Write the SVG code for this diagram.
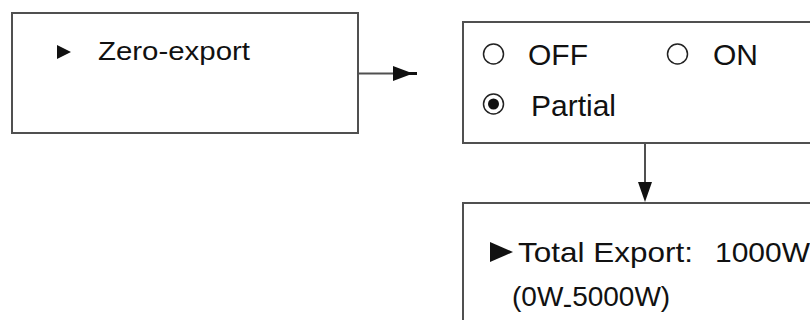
<svg xmlns="http://www.w3.org/2000/svg" width="810" height="320" viewBox="0 0 810 320">
<style>
.box{fill:#fff;stroke:#505050;stroke-width:2}
.t{font-family:"Liberation Sans",Arial,sans-serif;fill:#111}
.c{stroke:#505050;stroke-width:2;fill:none}
.h{fill:#111;stroke:none}
.radio{fill:#fff;stroke:#222;stroke-width:1.5}
</style>
<rect width="810" height="320" fill="#fff"/>
<g id="node-zero-export">
<rect class="box" x="12" y="13" width="346" height="120"/>
<polygon class="h" points="57,45 71,52 57,59"/>
<text class="t" x="98" y="60" font-size="26" textLength="152" lengthAdjust="spacingAndGlyphs">Zero-export</text>
</g>
<g id="node-mode">
<rect class="box" x="463" y="22" width="360" height="121"/>
<circle class="radio" cx="493.5" cy="54" r="10"/>
<text class="t" x="528" y="65" font-size="29" textLength="60" lengthAdjust="spacingAndGlyphs">OFF</text>
<circle class="radio" cx="677.5" cy="54" r="10"/>
<text class="t" x="713" y="65" font-size="29" textLength="45" lengthAdjust="spacingAndGlyphs">ON</text>
<circle class="radio" cx="493.5" cy="104" r="10"/>
<circle class="h" cx="493.5" cy="104" r="5.5"/>
<text class="t" x="531" y="116" font-size="29" textLength="85" lengthAdjust="spacingAndGlyphs">Partial</text>
</g>
<g id="node-total-export">
<rect class="box" x="463" y="203" width="360" height="130"/>
<polygon class="h" points="490,242 513,252 490,262"/>
<text class="t" x="518" y="262" font-size="28" textLength="175" lengthAdjust="spacingAndGlyphs">Total Export:</text>
<text class="t" x="715" y="262" font-size="28" textLength="95" lengthAdjust="spacingAndGlyphs">1000W</text>
<text class="t" x="512" y="306" font-size="28">(0W<tspan dy="7">-</tspan><tspan dy="-7">5000W)</tspan></text>
</g>
<g id="connectors">
<line class="c" x1="358" y1="73.5" x2="417" y2="73.5"/>
<polygon class="h" points="393,66 409,72 417,72 417,75 409,75 393,81"/>
<line class="c" x1="645" y1="143" x2="645" y2="190"/>
<polygon class="h" points="638,182 652,182 645,202"/>
</g>
</svg>
